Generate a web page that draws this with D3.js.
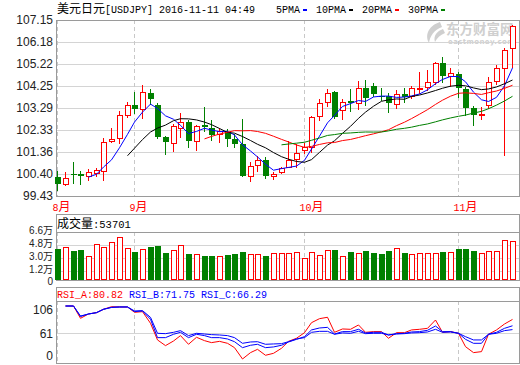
<!DOCTYPE html>
<html><head><meta charset="utf-8">
<script src="https://cdn.jsdelivr.net/npm/d3@7/dist/d3.min.js"></script>
<style>body{margin:0;background:#fff}svg{display:block}</style>
</head><body><svg id="c" width="520" height="365"></svg>
<script>
// ---------- DATA ----------
const categories = d3.range(60); // trading-day index
const monthLabels = ["8月", "9月", "10月", "11月"];
const monthStart = [0, 10, 32, 52];
const open  = [100.25,99.94,100.40,100.38,100.29,100.44,100.54,101.84,101.96,102.97,103.42,103.23,103.93,103.42,102.00,101.74,102.40,102.68,101.86,102.55,102.40,102.15,102.24,101.93,101.70,100.32,100.78,101.01,100.32,100.47,100.72,101.04,101.45,101.57,102.94,103.54,103.98,103.20,103.61,103.50,104.15,104.26,103.82,103.82,103.45,103.90,103.82,104.16,104.23,104.44,105.25,104.71,104.78,104.12,103.28,103.00,103.42,104.47,105.06,105.91];
const high  = [100.53,100.47,100.94,100.54,100.62,100.67,101.96,102.40,103.16,103.55,103.98,104.29,104.11,103.52,102.06,102.59,103.08,102.76,102.55,103.33,102.76,102.40,102.38,102.15,102.79,100.94,101.20,101.13,100.50,100.72,101.84,101.70,101.74,102.94,103.67,104.11,104.04,103.69,104.11,104.47,104.52,104.40,104.18,103.96,104.08,104.18,104.26,104.88,104.96,105.32,105.54,105.06,104.88,104.23,103.38,103.32,104.64,105.18,105.91,106.93];
const low   = [99.69,99.91,99.99,99.95,100.13,100.31,100.13,101.81,101.77,102.88,103.06,102.84,103.48,101.99,101.26,101.42,102.00,101.57,101.45,102.28,101.89,101.81,101.62,101.57,100.32,100.10,100.53,100.21,100.18,100.43,100.69,100.72,101.30,101.37,102.76,103.39,102.84,102.79,103.17,103.23,103.42,103.82,103.64,103.13,103.28,103.54,103.72,103.96,104.08,104.34,104.44,104.26,103.79,102.98,102.55,102.79,103.28,104.34,101.23,105.10];
const close = [99.94,100.21,100.35,100.32,100.47,100.56,101.80,101.92,102.98,103.41,103.25,103.99,103.67,102.03,101.79,102.50,102.66,101.86,102.51,102.47,102.12,102.30,101.94,101.71,100.32,100.75,101.01,100.32,100.41,100.67,101.01,101.30,101.59,102.88,103.50,103.93,102.91,103.57,103.50,104.18,103.72,103.90,103.76,103.50,103.90,103.79,104.15,104.18,104.42,105.25,104.71,104.81,104.15,103.28,102.98,103.03,104.44,105.06,105.83,106.89];
const volume = [42600,45000,39900,40800,32600,49100,45000,51800,58700,43600,38500,42200,45400,46800,37600,40800,47700,35800,35300,33000,33000,32600,34400,35800,38500,35300,35300,33000,36700,36700,36700,38500,30300,38500,34400,40800,41300,33000,38500,37100,39900,37600,35800,39900,44000,37600,35800,37100,37100,37100,38500,38500,42600,42600,39900,37100,39900,39900,55000,53701];
const rsiA = [null,100,100,82.4,88.6,90.5,95.3,99,98.6,98.6,91,91.9,75.3,51.5,43.4,50,57.7,45.3,55.3,50.5,47.7,49.5,46.7,40.5,24.3,33.4,38.1,29.6,32.4,39.6,49.5,53.9,61.9,76.2,81.9,83.9,62.4,67.2,66.7,72.9,62.4,63.4,63.4,53.9,61.9,61.9,65.8,66.7,68.1,80,62.4,63.4,61,41.9,33.4,34.8,59.6,65.8,74.3,80.82];
const rsiB = [null,100,100,85,88.6,90.5,95.3,98,98.6,98.6,92,92.9,81,54.8,54.8,59.6,62.4,54.8,59.6,57.7,54.8,54.8,52.9,49,40.5,43.9,45.3,40.5,41.5,43.9,48.6,52.4,56.2,65.8,68.6,69.5,60,63.4,63.4,66.7,61.5,62.4,62.4,58.6,60.5,61,62.9,63.4,65.3,71.4,63.4,63.4,61,52.4,46.7,46.7,59.6,62.4,68.1,71.75];
const rsiC = [null,100,100,85.7,88.6,90.5,95.3,98,98.6,98.6,92.9,93.4,83.8,61,60.5,62.4,64.8,57.7,61,60,59.1,58.6,57.7,54.8,46.7,48.6,49,45.3,45.8,46.2,49,52.9,54.8,62.4,63.8,63.8,59.6,61.5,61,63.8,60.5,61,61,58.6,60,60.5,61.5,61.9,62.9,66.7,62.4,62.9,61,56.2,51.5,51.5,59.6,61,64.8,66.29];
const priceTicks = [107.15,106.18,105.22,104.25,103.29,102.33,101.36,100.40,99.43];
const volumeTicks = [66000,48000,30000,12000,0];
const rsiTicks = [106, 61, 0];
const maPeriods = [5, 10, 20, 30];
const maNames = ["5PMA", "10PMA", "20PMA", "30PMA"];
const maColors = ["#0000ff", "#000000", "#ff0000", "#008000"];
const title = "美元日元[USDJPY] 2016-11-11 04:49";

// ---------- LAYOUT ----------
const L = 56, R = 519;
const RED = "#ff0000", GREEN = "#008000", FRAME = "#9a9a9a", GRID = "#d4d4d4";
const svg = d3.select("#c");
const x = d3.scaleBand().domain(categories).range([54.15, 516.15]).paddingInner(0.28).paddingOuter(0.14);
const bx = i => Math.round(x(i));
const cxp = i => bx(i) + 2.5;
const y = d3.scaleLinear().domain([99.43, 107.15]).range([196, 20]);
const vy = d3.scaleLinear().domain([0, 66000]).range([280, 232]);
const ry = d3.scaleLinear().domain([61, 100]).range([333.3, 306]);
const rLabelY = d3.scaleLinear().domain([0, 61, 106]).range([355.5, 333.5, 309.5]);
const up = categories.map(i => close[i] >= open[i]);

function mixedText(g, tx, ty, str, fill, cjkSize, asciiSize) {
  const t = g.append("text").attr("x", tx).attr("y", ty).attr("fill", fill);
  const runs = str.match(/[\u3000-\u9fff\uff00-\uffef]+|[^\u3000-\u9fff\uff00-\uffef]+/g);
  runs.forEach(r => {
    const cjk = /[\u3000-\u9fff\uff00-\uffef]/.test(r);
    t.append("tspan").text(r)
      .attr("font-family", cjk ? "Noto Sans CJK SC" : "Liberation Mono, DejaVu Sans Mono, monospace")
      .attr("font-size", cjk ? cjkSize : asciiSize);
  });
  return t;
}

// watermark
const wm = svg.append("g").attr("fill", "#cfcfcf");
wm.append("path").attr("d", "M440 22 C430 25 424 34 429 43 C430 36 434 30 442 27 Z M443 29 C437 31 433 36 435 42 C437 38 440 35 445 33 Z");
wm.append("text").attr("x", 446).attr("y", 34).attr("font-family", "Noto Sans CJK SC").attr("font-weight", "bold").attr("font-size", 13.5).text("东方财富网");
wm.append("text").attr("x", 448).attr("y", 43.5).attr("font-family", "DejaVu Sans").attr("font-weight", "bold").attr("font-size", 7).attr("letter-spacing", 0.4).text("eastmoney.com");

// ---------- header ----------
mixedText(svg, 57, 12.5, title, "#000", 12, 10);
let lx = 276;
maNames.forEach((n, k) => {
  svg.append("text").attr("x", lx).attr("y", 13).attr("font-family", "Liberation Mono, monospace").attr("font-size", 10).text(n);
  lx += n.length * 6 + 3;
  svg.append("rect").attr("x", lx).attr("y", 9).attr("width", 4).attr("height", 2).attr("fill", maColors[k]);
  lx += 4 + 9;
});

// ---------- grids & frames ----------
const grid = svg.append("g").attr("stroke", GRID).attr("shape-rendering", "crispEdges");
priceTicks.slice(1, -1).forEach(v => grid.append("line").attr("x1", L).attr("x2", R).attr("y1", Math.round(y(v)) + 0.5).attr("y2", Math.round(y(v)) + 0.5));
volumeTicks.slice(1, -1).forEach(v => grid.append("line").attr("x1", L).attr("x2", R).attr("y1", Math.round(vy(v)) + 0.5).attr("y2", Math.round(vy(v)) + 0.5));
grid.append("line").attr("x1", L).attr("x2", R).attr("y1", Math.round(ry(61)) + 0.5).attr("y2", Math.round(ry(61)) + 0.5);

// month dashed lines and labels
const dash = svg.append("g").attr("stroke", "#c8c8c8").attr("stroke-dasharray", "4,3").attr("shape-rendering", "crispEdges");
monthStart.forEach((mi, k) => {
  const xx = cxp(mi);
  [[20, 196], [232, 280], [301, 363]].forEach(([a, b]) => dash.append("line").attr("x1", xx).attr("x2", xx).attr("y1", a).attr("y2", b));
  mixedText(svg, xx - 5, 211, monthLabels[k], RED, 12, 10);
});

const frame = svg.append("g").attr("fill", "none").attr("stroke", FRAME).attr("shape-rendering", "crispEdges");
frame.append("rect").attr("x", L + 0.5).attr("y", 20.5).attr("width", R - L).attr("height", 176);
frame.append("rect").attr("x", L + 0.5).attr("y", 214.5).attr("width", R - L).attr("height", 66);
frame.append("line").attr("x1", L).attr("x2", R + 1).attr("y1", 232.5).attr("y2", 232.5);
frame.append("rect").attr("x", L + 0.5).attr("y", 287.5).attr("width", R - L).attr("height", 76);
frame.append("line").attr("x1", L).attr("x2", R + 1).attr("y1", 301.5).attr("y2", 301.5);

// ---------- axes labels ----------
function styleAxis(g, size) {
  g.select(".domain").remove();
  g.selectAll("text").attr("font-family", "Liberation Sans, Arial, sans-serif").attr("font-size", size).attr("fill", "#222");
}
svg.append("g").attr("transform", `translate(${L},0)`)
  .call(d3.axisLeft(y).tickValues(priceTicks).tickFormat(d3.format(".2f")).tickSize(0).tickPadding(3)).call(styleAxis, 12);
const va = svg.append("g").attr("transform", `translate(${L},0)`)
  .call(d3.axisLeft(vy).tickValues(volumeTicks).tickFormat(v => v === 0 ? "0" : (v / 10000).toFixed(1) + "万").tickSize(0).tickPadding(3)).call(styleAxis, 10);
va.selectAll("text").attr("font-family", "Liberation Sans, Noto Sans CJK SC, sans-serif")
  .attr("transform", v => v === 0 ? "translate(0,1)" : "translate(0,-1.5)");
svg.append("g").attr("transform", `translate(${L},0)`)
  .call(d3.axisLeft(rLabelY).tickValues(rsiTicks).tickFormat(d3.format("d")).tickSize(0).tickPadding(3)).call(styleAxis, 12);

// ---------- candles ----------
const cg = svg.append("g").attr("shape-rendering", "crispEdges");
categories.forEach(i => {
  const col = up[i] ? RED : GREEN;
  cg.append("line").attr("x1", cxp(i)).attr("x2", cxp(i))
    .attr("y1", Math.round(y(high[i]))).attr("y2", Math.round(y(low[i])) + 1).attr("stroke", col);
  const t = Math.round(y(Math.max(open[i], close[i]))), b = Math.round(y(Math.min(open[i], close[i])));
  if (up[i]) {
    cg.append("rect").attr("x", bx(i) + 0.5).attr("y", t + 0.5).attr("width", 5).attr("height", Math.max(b - t, 1))
      .attr("fill", "#fff").attr("stroke", RED);
  } else {
    cg.append("rect").attr("x", bx(i)).attr("y", t).attr("width", 6).attr("height", Math.max(b - t, 1)).attr("fill", GREEN);
  }
});

// ---------- moving averages ----------
maPeriods.forEach((p, k) => {
  const ma = categories.map(i => i < p - 1 ? null : d3.mean(close.slice(i - p + 1, i + 1)));
  svg.append("path").datum(ma).attr("fill", "none").attr("stroke", maColors[k]).attr("stroke-width", 1)
    .attr("d", d3.line().defined(v => v != null).x((v, i) => cxp(i)).y(v => y(v)));
});

// ---------- volume ----------
mixedText(svg, 57, 228, "成交量:" + volume[volume.length - 1], "#000", 12, 10.5);
const vg = svg.append("g").attr("shape-rendering", "crispEdges");
categories.forEach(i => {
  const t = Math.round(vy(volume[i]));
  if (up[i]) vg.append("rect").attr("x", bx(i) + 0.5).attr("y", t + 0.5).attr("width", 5).attr("height", vy(0) - t - 1).attr("fill", "#fff").attr("stroke", RED);
  else vg.append("rect").attr("x", bx(i)).attr("y", t).attr("width", 6).attr("height", vy(0) - t).attr("fill", GREEN);
});

// ---------- RSI ----------
const fmt = d3.format(".2f");
const rsiSeries = [["RSI_A", rsiA, RED], ["RSI_B", rsiB, "#0000ff"], ["RSI_C", rsiC, "#0000ff"]];
rsiSeries.forEach(([n, arr, col], k) => {
  svg.append("text").attr("x", 57 + k * 72).attr("y", 298).attr("font-family", "Liberation Mono, monospace").attr("font-size", 10)
    .attr("fill", col).text(n + ":" + fmt(arr[arr.length - 1]));
  svg.append("path").datum(arr).attr("fill", "none").attr("stroke", col).attr("stroke-width", 1)
    .attr("d", d3.line().defined(v => v != null).x((v, i) => cxp(i)).y(v => ry(v)));
});
</script></body></html>
